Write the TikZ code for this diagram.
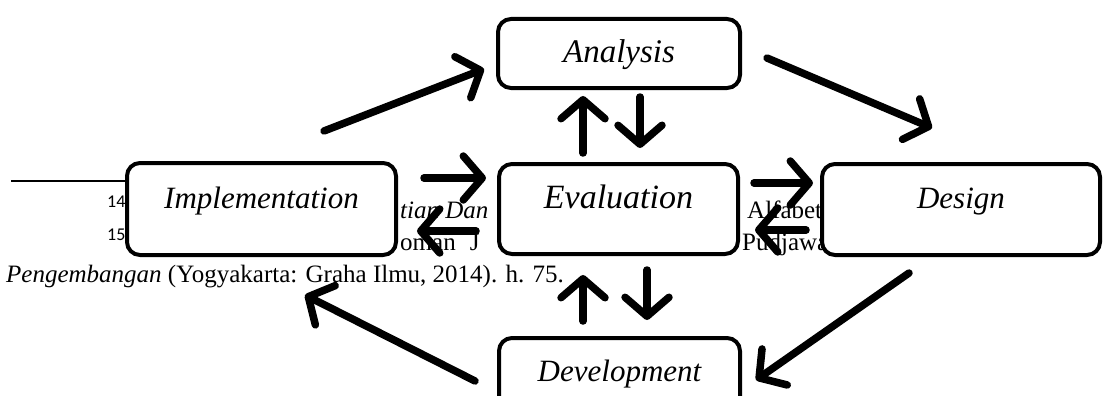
\documentclass[tikz,border=0pt]{standalone}
\usepackage{fontspec}
\setmainfont{Liberation Serif}
\newfontfamily\notenumfont{Carlito}
\usetikzlibrary{arrows.meta,calc}

\begin{document}
\begin{tikzpicture}[x=1pt,y=-1pt,
  phase/.style={draw, line width=4pt, rounded corners=13pt, fill=white,
    inner sep=0pt, font=\fontsize{31}{36}\selectfont\itshape},
  arr/.style={line width=7.5pt, line cap=round,
    -{Straight Barb[length=19pt,width=44pt,round]},
    preaction={draw=black!22, transform canvas={shift={(1.5pt,-2pt)}}}},
  note/.style={anchor=base west, inner sep=0pt, font=\fontsize{25}{30}\selectfont},
  notenum/.style={anchor=base west, inner sep=0pt, font=\notenumfont\fontsize{18}{20}\selectfont},
]
\clip (0,0) rectangle (1103,396);
\fill[white] (0,0) rectangle (1103,396);

% footnote block behind the chart
\draw[line width=1.6pt] (11,181) -- (200,181);
\node[notenum] (fn14) at (107,207) {14};
\node[notenum] (fn15) at (107,240) {15};
\node[note] (l1a) at (400,218) {\itshape tian Dan};
\node[note] (l1b) at (747,218) {Alfabet};
\node[note] (l2a) at (400,250) {oman\hspace{14pt}J};
\node[note] (l2b) at (742,250) {Pudjawa};
\node[note] (l3) at (6,282) {\textit{Pengembangan} (Yogyakarta: Graha Ilmu, 2014). h. 75.};

% phase boxes
\node[phase, minimum width=242pt, minimum height=69pt, text height=28pt, text depth=9pt,
  font=\fontsize{33}{38}\selectfont\itshape]
  (ana) at (619,53.5) {Analysis};
\node[phase, minimum width=269pt, minimum height=92pt, text height=21pt, text depth=23pt]
  (imp) at (261.5,209) {Implementation};
\node[phase, minimum width=239pt, minimum height=90pt, text height=22pt, text depth=24pt,
  font=\fontsize{34}{38}\selectfont\itshape]
  (eva) at (618.5,209) {Evaluation};
\node[phase, minimum width=278pt, minimum height=91pt, text height=21pt, text depth=23pt]
  (des) at (961,209.5) {Design};
\node[phase, minimum width=241pt, minimum height=91pt, text height=21pt, text depth=25pt]
  (dev) at (619.5,383.5) {Development};

% arrow end points
\coordinate (impA) at (324,131);   \coordinate (anaI) at (484,69);
\coordinate (anaD) at (767,58);    \coordinate (desA) at (932,128);
\coordinate (desV) at (909,273);   \coordinate (devD) at (756,380);
\coordinate (devI) at (475,381);   \coordinate (impV) at (305,295);
\coordinate (impE1) at (424,178);  \coordinate (evaI1) at (486,178);
\coordinate (evaI2) at (476,231);  \coordinate (impE2) at (417,231);
\coordinate (evaD1) at (754,183);  \coordinate (desE1) at (813,183);
\coordinate (desE2) at (806,230);  \coordinate (evaD2) at (755,230);
\coordinate (evaA) at (583,153);   \coordinate (anaE) at (583,96);
\coordinate (anaE2) at (640,97);   \coordinate (evaA2) at (640,148);
\coordinate (evaV) at (647,270);   \coordinate (devE) at (647,320);
\coordinate (devE2) at (583,321);  \coordinate (evaV2) at (583,275);

% cycle arrows
\draw[arr] (impA) -- (anaI);
\draw[arr] (anaD) -- (desA);
\draw[arr] (desV) -- (devD);
\draw[arr] (devI) -- (impV);

% evaluation feedback arrows
\draw[arr] (impE1) -- (evaI1);
\draw[arr] (evaI2) -- (impE2);
\draw[arr] (evaD1) -- (desE1);
\draw[arr] (desE2) -- (evaD2);
\draw[arr] (evaA) -- (anaE);
\draw[arr] (anaE2) -- (evaA2);
\draw[arr] (evaV) -- (devE);
\draw[arr] (devE2) -- (evaV2);
\end{tikzpicture}
\end{document}
